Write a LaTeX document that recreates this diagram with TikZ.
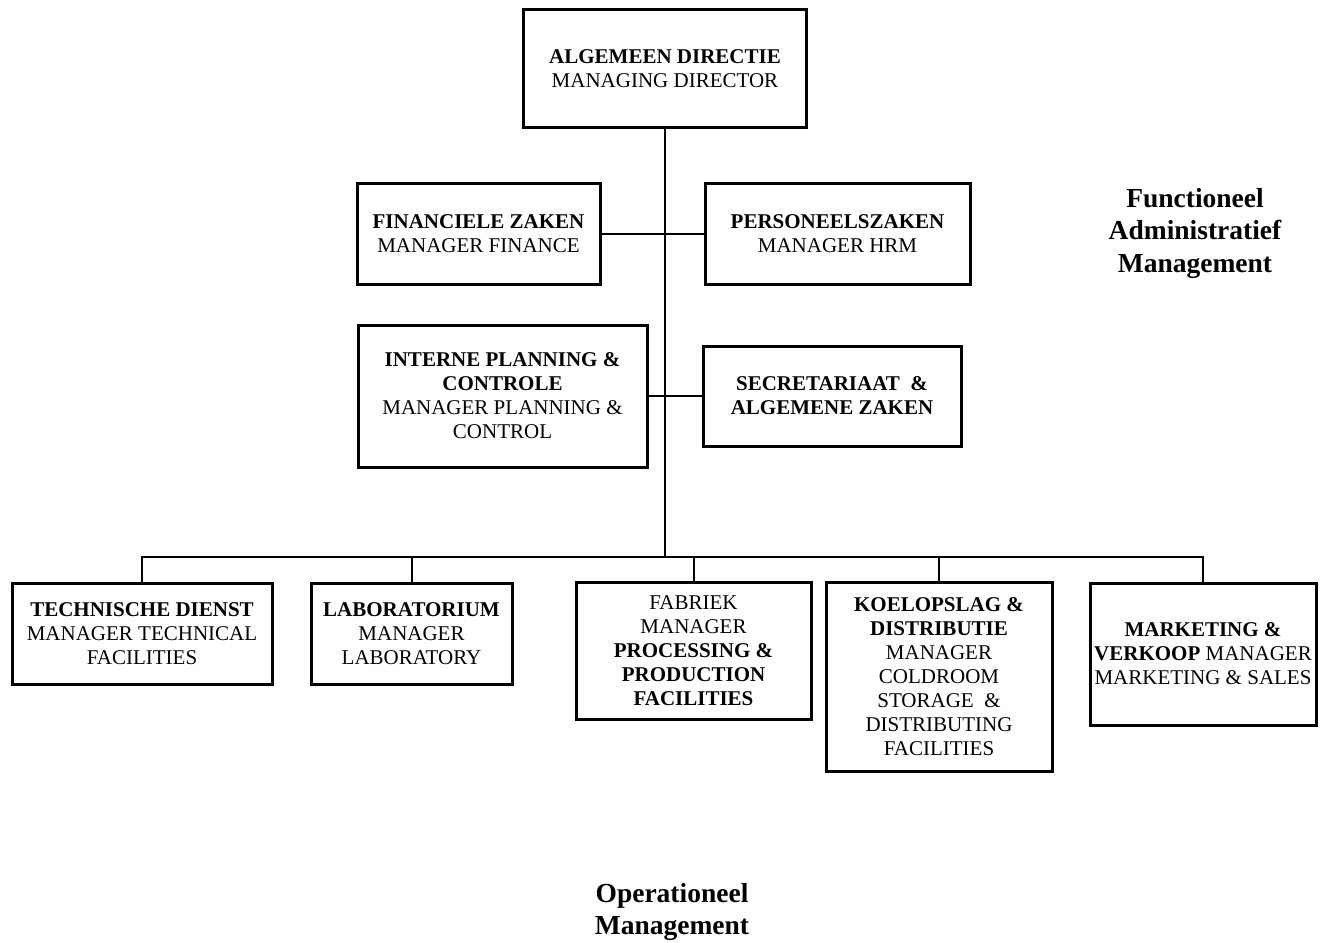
\documentclass[tikz,border=0pt]{standalone}
\usepackage{fontspec}
\setmainfont{Liberation Serif}
\begin{document}
\begin{tikzpicture}[x=1pt,y=-1pt,
  unit/.style={draw,line width=3pt,rectangle,inner sep=0pt,align=center,
    font=\fontsize{21}{24}\selectfont},
  link/.style={line width=2pt},
  level/.style={align=center,font=\fontsize{27.5}{32.5}\selectfont\bfseries}]
\useasboundingbox (0,0) rectangle (1330,942);

% top of the hierarchy
\node[unit,minimum width=283pt,minimum height=117pt] (top) at (665,68.5)
  {\textbf{ALGEMEEN DIRECTIE}\\MANAGING DIRECTOR};

% staff departments
\node[unit,minimum width=243pt,minimum height=101pt] (fin) at (478.5,233.5)
  {\textbf{FINANCIELE ZAKEN}\\MANAGER FINANCE};
\node[unit,minimum width=265pt,minimum height=101pt] (pers) at (837.5,233.5)
  {\textbf{PERSONEELSZAKEN}\\MANAGER HRM};
\node[unit,minimum width=289pt,minimum height=142pt] (plan) at (502.5,396)
  {\textbf{INTERNE PLANNING \&}\\\textbf{CONTROLE}\\MANAGER PLANNING \&\\CONTROL};
\node[unit,minimum width=258pt,minimum height=100pt] (secr) at (832,396)
  {\textbf{SECRETARIAAT \ \&}\\\textbf{ALGEMENE ZAKEN}};

% line departments
\node[unit,minimum width=260pt,minimum height=101pt] (tech) at (142,633.5)
  {\textbf{TECHNISCHE DIENST}\\MANAGER TECHNICAL\\FACILITIES};
\node[unit,minimum width=201pt,minimum height=101pt] (lab) at (411.5,633.5)
  {\textbf{LABORATORIUM}\\MANAGER\\LABORATORY};
\node[unit,minimum width=235pt,minimum height=137pt] (fab) at (693.5,650.5)
  {FABRIEK\\MANAGER\\\textbf{PROCESSING \&}\\\textbf{PRODUCTION}\\\textbf{FACILITIES}};
\node[unit,minimum width=226pt,minimum height=189pt] (koel) at (939,676.5)
  {\textbf{KOELOPSLAG \&}\\\textbf{DISTRIBUTIE}\\MANAGER\\COLDROOM\\STORAGE \ \&\\DISTRIBUTING\\FACILITIES};
\node[unit,minimum width=226pt,minimum height=142pt] (mark) at (1203,654)
  {\textbf{MARKETING \&}\\\textbf{VERKOOP} MANAGER\\MARKETING \& SALES};

% management levels
\node[level] (func) at (1195,233) {Functioneel\\Administratief\\Management};
\node[level] (oper) at (672,912) {Operationeel\\Management};

% connectors
\coordinate (bus) at (665,557);
\draw[link] (top.south) -- (bus);
\draw[link] (fin.east) -- (pers.west);
\draw[link] (plan.east) -- (secr.west |- plan.east);
\draw[link] (tech.north) |- (bus) -| (mark.north);
\draw[link] (lab.north) -- (lab.north |- bus);
\draw[link] (fab.north) -- (fab.north |- bus);
\draw[link] (koel.north) -- (koel.north |- bus);
\end{tikzpicture}
\end{document}
